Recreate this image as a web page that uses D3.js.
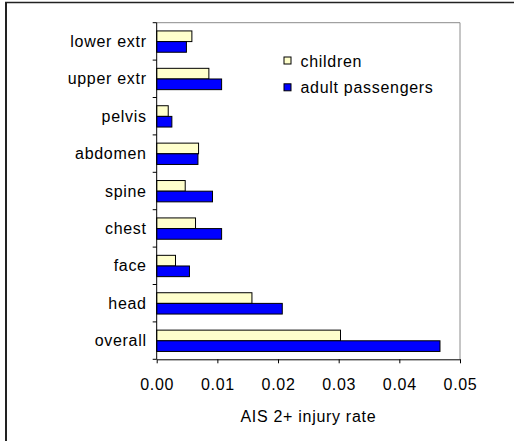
<!DOCTYPE html>
<html>
<head>
<meta charset="utf-8">
<script src="https://cdn.jsdelivr.net/npm/d3@7"></script>
<style>
  html, body { margin: 0; padding: 0; background: #fff; }
  svg { display: block; }
  text { font-family: "Liberation Sans", Arial, sans-serif; font-size: 16px; letter-spacing: 0.7px; fill: #000; }
</style>
</head>
<body>
<svg id="chart" width="514" height="441"></svg>
<script>
const categories = ["lower extr", "upper extr", "pelvis", "abdomen", "spine", "chest", "face", "head", "overall"];
const seriesNames = ["children", "adult passengers"];
const childrenValues = [0.0058, 0.0086, 0.0019, 0.0069, 0.0047, 0.0064, 0.0031, 0.0157, 0.0303];
const adultValues    = [0.0049, 0.0107, 0.0025, 0.0068, 0.0092, 0.0107, 0.0054, 0.0207, 0.0467];
const xTicks = [0, 0.01, 0.02, 0.03, 0.04, 0.05];
const xTitle = "AIS 2+ injury rate";
const seriesColors = ["#FFFFCC", "#0000FF"];

const svg = d3.select("#chart");

// outer frame (left and top edges visible)
svg.append("line").attr("x1", 6).attr("x2", 6).attr("y1", 2.5).attr("y2", 441)
  .attr("stroke", "#222").attr("stroke-width", 2);
svg.append("line").attr("x1", 5).attr("x2", 514).attr("y1", 2.5).attr("y2", 2.5)
  .attr("stroke", "#222").attr("stroke-width", 1.5);

const pLeft = 156.7, pRight = 460, pTop = 22.7, pBottom = 359.3;

const x = d3.scaleLinear().domain([0, 0.05]).range([pLeft, pRight]);
const y = d3.scaleBand().domain(categories).range([pTop, pBottom]).padding(0);
const ySub = d3.scaleBand().domain(seriesNames)
  .range([y.bandwidth() * 0.22, y.bandwidth() * 0.79]).padding(0);

// plot area frame (top + right in gray)
svg.append("path")
  .attr("d", `M${pLeft},${pTop}H${pRight}V${pBottom}`)
  .attr("fill", "none").attr("stroke", "#8c8c8c").attr("stroke-width", 1);

// bars
const rows = categories.map((c, i) => ({ cat: c, vals: [childrenValues[i], adultValues[i]] }));
const g = svg.append("g");
rows.forEach(r => {
  r.vals.forEach((v, j) => {
    g.append("rect")
      .attr("x", x(0))
      .attr("y", y(r.cat) + ySub(seriesNames[j]))
      .attr("width", x(v) - x(0))
      .attr("height", ySub.bandwidth())
      .attr("fill", seriesColors[j])
      .attr("stroke", "#000")
      .attr("stroke-width", 1);
  });
});

// y axis: line + ticks at category boundaries
svg.append("line").attr("x1", pLeft).attr("x2", pLeft).attr("y1", pTop).attr("y2", pBottom)
  .attr("stroke", "#000").attr("stroke-width", 1);
const bounds = categories.map(c => y(c)).concat([pBottom]);
bounds.forEach(b => {
  svg.append("line").attr("x1", pLeft - 4).attr("x2", pLeft).attr("y1", b).attr("y2", b)
    .attr("stroke", "#000").attr("stroke-width", 1);
});
categories.forEach(c => {
  svg.append("text")
    .attr("x", pLeft - 10)
    .attr("y", y(c) + y.bandwidth() / 2)
    .attr("dy", "0.35em")
    .attr("text-anchor", "end")
    .text(c);
});

// x axis
const xAxis = d3.axisBottom(x).tickValues(xTicks).tickFormat(d3.format(".2f")).tickSize(4).tickSizeOuter(0);
const xg = svg.append("g").attr("transform", `translate(0,${pBottom})`).call(xAxis);
xg.select(".domain").attr("stroke", "#000");
xg.selectAll(".tick line").attr("stroke", "#000");
xg.selectAll(".tick text")
  .attr("y", 31).attr("dy", 0)
  .style("font-family", '"Liberation Sans", Arial, sans-serif')
  .style("font-size", "16px")
  .style("letter-spacing", "0.7px")
  .attr("fill", "#000");

// x title
svg.append("text")
  .attr("x", (pLeft + pRight) / 2)
  .attr("y", 421.5)
  .attr("text-anchor", "middle")
  .text(xTitle);

// legend
const legendY = [60.5, 87.3];
seriesNames.forEach((s, j) => {
  svg.append("rect")
    .attr("x", 284).attr("y", legendY[j] - 3.5)
    .attr("width", 7).attr("height", 7)
    .attr("fill", seriesColors[j]).attr("stroke", "#000").attr("stroke-width", 1);
  svg.append("text")
    .attr("x", 300.5).attr("y", legendY[j])
    .attr("dy", "0.38em")
    .text(s);
});
</script>
</body>
</html>
